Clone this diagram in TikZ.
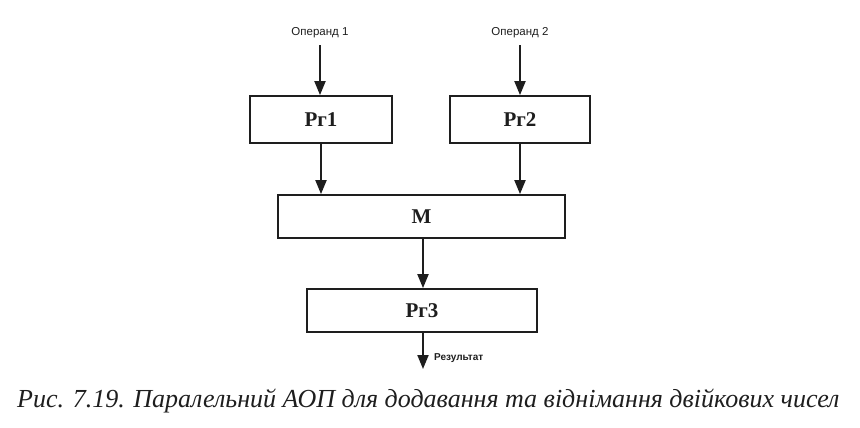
\documentclass[tikz,border=0pt]{standalone}
\usepackage{fontspec}
\setmainfont{Liberation Serif}
\newfontfamily\lsans{Liberation Sans}
\usetikzlibrary{arrows.meta}
\definecolor{ink}{HTML}{1E1E1E}
\begin{document}
\begin{tikzpicture}[x=1pt,y=-1pt,
  reg/.style={draw=ink,line width=1.8pt,minimum width=#1,inner sep=0pt,
    font=\fontsize{21}{24}\selectfont\bfseries,text=ink},
  arr/.style={draw=ink,line width=2pt,-{Triangle[length=14pt,width=11pt]}},
  lbl/.style={font=\lsans\fontsize{11.5}{13}\selectfont,text=ink,inner sep=0pt}]
\useasboundingbox (0,0) rectangle (860,428);
\node[lbl] (op1) at (320,33) {Операнд 1};
\node[lbl] (op2) at (520,33) {Операнд 2};
\node[reg=142pt,minimum height=47pt] (pr1) at (321,119.5) {Рг1};
\node[reg=140pt,minimum height=47pt] (pr2) at (520,119.5) {Рг2};
\node[reg=287pt,minimum height=43pt] (m) at (421.5,216.5) {М};
\node[reg=230pt,minimum height=43pt] (pr3) at (422,310.5) {Рг3};
\coordinate (res) at (423,369);
\node[lbl,font=\lsans\bfseries\fontsize{10}{12}\selectfont,anchor=west] (reslbl) at (434,358) {Результат};
\draw[arr] ([yshift=-7pt]op1.south) -- (op1.south |- pr1.north);
\draw[arr] ([yshift=-7pt]op2.south) -- (op2.south |- pr2.north);
\draw[arr] (pr1.south) -- (pr1.south |- m.north);
\draw[arr] (pr2.south) -- (pr2.south |- m.north);
\draw[arr] (m.south -| res) -- (pr3.north -| res);
\draw[arr] (pr3.south -| res) -- (res);
\node[anchor=west,inner sep=0pt,text=ink,font=\itshape\fontsize{26}{30}\selectfont] (cap) at (17,401) {Рис. 7.19. Паралельний АОП для додавання та віднімання двійкових чисел};
\end{tikzpicture}
\end{document}
